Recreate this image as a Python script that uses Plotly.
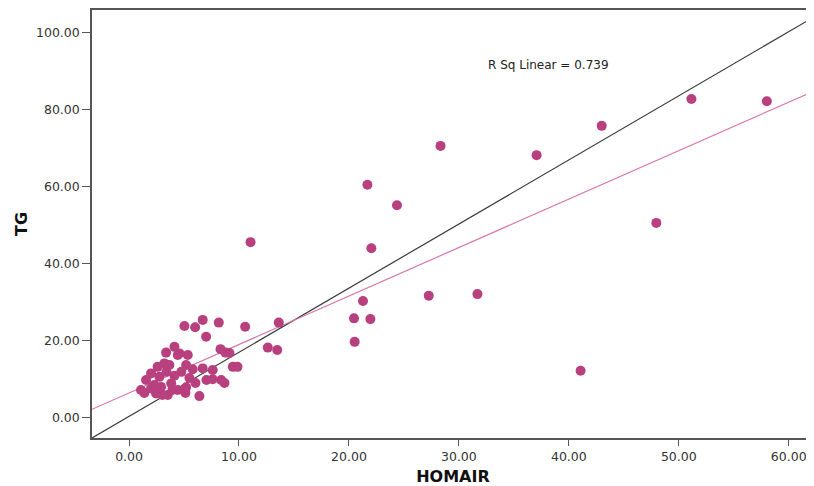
import plotly.graph_objects as go

# Data (HOMAIR vs TG)
homair = [51.15, 58.01, 42.99, 37.07, 28.33, 21.68, 24.37, 47.96, 22.04, 11.05,
          21.28, 27.26, 31.69, 20.46, 21.95, 20.52, 41.07, 13.62, 10.56, 12.62,
          13.48, 5.04, 6.01, 6.70, 8.16, 7.01, 4.13, 8.32, 8.77, 9.13,
          3.37, 4.58, 5.34, 6.70, 5.79, 7.61, 7.61, 8.38, 6.40, 5.19,
          3.94, 9.44, 9.86, 8.68, 4.43, 5.19, 3.21, 2.60, 2.00, 1.55,
          1.09, 2.00, 2.91, 3.83, 4.43, 2.46, 3.52, 1.39, 2.76, 3.40,
          4.13, 4.76, 5.49, 6.04, 7.04, 3.03, 5.13, 2.30, 3.67]
tg = [82.7, 82.1, 75.7, 68.1, 70.5, 60.4, 55.1, 50.5, 43.9, 45.5,
      30.2, 31.6, 32.0, 25.7, 25.5, 19.6, 12.1, 24.6, 23.5, 18.1,
      17.5, 23.7, 23.4, 25.3, 24.6, 20.9, 18.3, 17.7, 16.8, 16.7,
      16.8, 16.6, 16.2, 12.7, 12.5, 12.3, 9.9, 9.7, 5.5, 7.8,
      7.1, 13.1, 13.1, 8.9, 16.2, 13.6, 14.0, 13.1, 11.4, 9.7,
      7.1, 7.5, 7.9, 8.8, 7.1, 6.2, 5.8, 6.3, 10.5, 11.8,
      10.8, 11.8, 10.2, 8.9, 9.7, 5.8, 6.3, 8.4, 13.6]

# Axis ranges and ticks
x_range = [-3.37, 62.3]
y_range = [-5.38, 105.8]
x_ticks = [0, 10, 20, 30, 40, 50, 60]
y_ticks = [0, 20, 40, 60, 80, 100]

# Linear fit line (intercept, slope) and reference line endpoints
fit_intercept = 6.32
fit_slope = 1.259
ref_x = [-3.37, 62.3]
ref_y = [-5.38, 104.0]
r2_text = "R Sq Linear = 0.739"

fit_x = x_range
fit_y = [fit_intercept + fit_slope * v for v in fit_x]

fig = go.Figure()
fig.add_trace(go.Scatter(x=ref_x, y=ref_y, mode="lines",
                         line=dict(color="#3a3a3a", width=1.2), hoverinfo="skip"))
fig.add_trace(go.Scatter(x=fit_x, y=fit_y, mode="lines",
                         line=dict(color="#d877ab", width=1.2), hoverinfo="skip"))
fig.add_trace(go.Scatter(x=homair, y=tg, mode="markers",
                         marker=dict(color="#b8407e", size=10, line=dict(width=0))))

FONT = "DejaVu Sans, Liberation Sans, Arial, sans-serif"

# plot area: 722 x 428 px; annotation placed in paper coords
fig.add_annotation(x=(548.5 - 92) / 722, y=(438 - 55.5) / 428,
                   xref="paper", yref="paper", text=r2_text,
                   showarrow=False, font=dict(family=FONT, size=12, color="#222"))

axis_font = dict(family=FONT, size=12.5, color="#333")
# page body has an 8px default margin, so the figure is 8px smaller and offset
fig.update_layout(
    width=806, height=478,
    margin=dict(l=84, r=0, t=2, b=48),
    paper_bgcolor="white", plot_bgcolor="white",
    showlegend=False,
    font=dict(family=FONT),
    xaxis=dict(range=x_range, tickvals=x_ticks, tickformat=".2f",
               showgrid=False, zeroline=False, showline=True, linecolor="#555",
               linewidth=1.5, mirror=True, ticks="outside", ticklen=6,
               tickcolor="#555", tickfont=axis_font,
               title=dict(text="<b>HOMAIR</b>", font=dict(family=FONT, size=16, color="#111"),
                          standoff=8)),
    yaxis=dict(range=y_range, tickvals=y_ticks, tickformat=".2f",
               showgrid=False, zeroline=False, showline=True, linecolor="#555",
               linewidth=1.5, mirror=False, ticks="outside", ticklen=8,
               tickcolor="#555", tickfont=axis_font,
               title=dict(text="<b>TG</b>", font=dict(family=FONT, size=16, color="#111"),
                          standoff=4)),
)

fig.write_html("out.html")
